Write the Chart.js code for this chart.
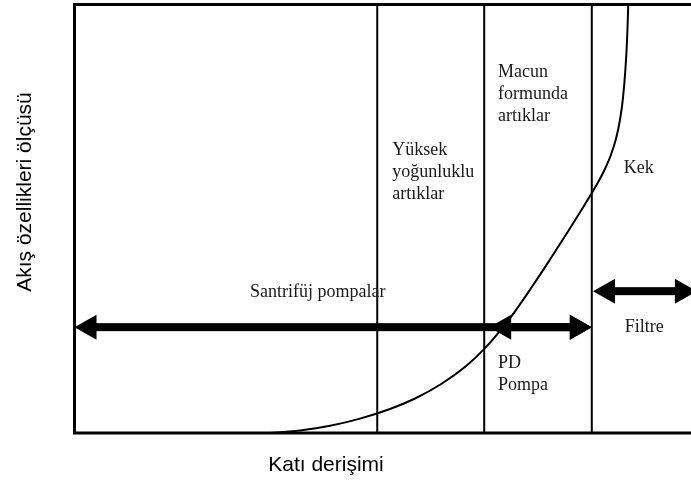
<!DOCTYPE html>
<html>
<head>
<meta charset="utf-8">
<script src="https://cdn.jsdelivr.net/npm/chart.js@4.4.0/dist/chart.umd.min.js"></script>
<style>
  html, body { margin: 0; padding: 0; background: #fff; overflow: hidden; }
  #wrap { width: 702px; height: 482px; }
</style>
</head>
<body>
<div id="wrap"><canvas id="flowChart"></canvas></div>
<script>
// x: katı derişimi (0-100), y: akış özellikleri ölçüsü (0-100)
const dividerX = [48.4, 65.5, 82.7];

const curveX = [31.25, 36.05, 40.85, 45.64, 50.44, 54.44, 58.43, 62.75, 65.47, 69.64, 73.30, 76.02, 78.74, 80.82, 82.73, 84.01, 84.97, 85.77, 86.57, 87.21, 87.69, 88.09, 88.33, 88.49, 88.55, 88.60];
const curveY = [0, 0.56, 1.68, 3.36, 5.60, 8.05, 11.26, 15.80, 19.56, 26.83, 34.47, 40.49, 46.68, 51.53, 56.06, 59.32, 62.13, 64.93, 68.66, 73.10, 78.21, 85.21, 91.48, 98.04, 101.96, 105];

// arrows: [from, to] along x, at height arrowY
const arrowY = [24.7, 24.7, 33.1];
const arrowFrom = [0, 66.3, 82.9];
const arrowTo = [82.7, 82.7, 99.5];

const regionLabels = [
    ['Santrifüj pompalar'],
    ['Filtre'],
    ['PD', 'Pompa'],
    ['Yüksek', 'yoğunluklu', 'artıklar'],
    ['Macun', 'formunda', 'artıklar'],
    ['Kek']
];
const labelX = [38.9, 91.1, 67.7, 50.8, 67.7, 87.8];
const labelY = [32.9, 24.7, 16.3, 66.0, 84.2, 61.8];
const labelAlign = ['center', 'center', 'left', 'left', 'left', 'left'];

const xTitle = 'Katı derişimi';
const yTitle = 'Akış özellikleri ölçüsü';

const curvePoints = curveX.map((x, i) => ({ x: x, y: curveY[i] }));

const dividerSets = dividerX.map(x => ({
    data: [{ x: x, y: 0 }, { x: x, y: 100 }],
    showLine: true,
    borderColor: '#000',
    borderWidth: 2,
    pointRadius: 0
}));

const drawingPlugin = {
    id: 'drawing',
    afterDatasetsDraw(chart) {
        const ctx = chart.ctx;
        const xs = chart.scales.x;
        const ys = chart.scales.y;
        const area = chart.chartArea;

        // frame
        ctx.save();
        ctx.strokeStyle = '#000';
        ctx.lineWidth = 3;
        ctx.strokeRect(area.left, area.top, area.right - area.left, area.bottom - area.top);
        ctx.restore();

        // arrows
        const headLen = 22, headHalf = 12.5, shaft = 8;
        ctx.save();
        ctx.fillStyle = '#000';
        arrowY.forEach((yv, i) => {
            const y = ys.getPixelForValue(yv);
            const x1 = xs.getPixelForValue(arrowFrom[i]);
            const x2 = xs.getPixelForValue(arrowTo[i]);
            ctx.fillRect(x1 + headLen - 2, y - shaft / 2, (x2 - x1) - 2 * headLen + 4, shaft);
            ctx.beginPath();
            ctx.moveTo(x1, y);
            ctx.lineTo(x1 + headLen, y - headHalf);
            ctx.lineTo(x1 + headLen, y + headHalf);
            ctx.closePath();
            ctx.fill();
            ctx.beginPath();
            ctx.moveTo(x2, y);
            ctx.lineTo(x2 - headLen, y - headHalf);
            ctx.lineTo(x2 - headLen, y + headHalf);
            ctx.closePath();
            ctx.fill();
        });
        ctx.restore();

        // region labels
        ctx.save();
        ctx.fillStyle = '#1a1a1a';
        ctx.font = '18px "Liberation Serif", "Times New Roman", serif';
        ctx.textBaseline = 'middle';
        regionLabels.forEach((lines, i) => {
            ctx.textAlign = labelAlign[i];
            const x = xs.getPixelForValue(labelX[i]);
            const y = ys.getPixelForValue(labelY[i]);
            lines.forEach((t, j) => ctx.fillText(t, x, y + j * 22));
        });
        ctx.restore();

        // axis titles
        ctx.save();
        ctx.fillStyle = '#000';
        ctx.font = '21px "Liberation Sans", Arial, sans-serif';
        ctx.textAlign = 'center';
        ctx.textBaseline = 'middle';
        ctx.fillText(xTitle, 326, 465);
        ctx.translate(25, 192);
        ctx.rotate(-Math.PI / 2);
        ctx.fillText(yTitle, 0, 0);
        ctx.restore();
    }
};

const flowCtx = document.getElementById('flowChart').getContext('2d');
const flowChart = new Chart(flowCtx, {
    type: 'scatter',
    data: {
        datasets: [
            {
                data: curvePoints,
                showLine: true,
                borderColor: '#000',
                borderWidth: 2,
                pointRadius: 0,
                cubicInterpolationMode: 'monotone'
            },
            ...dividerSets
        ]
    },
    options: {
        responsive: true,
        maintainAspectRatio: false,
        animation: false,
        layout: {
            padding: { left: 74.5, top: 4.5, right: 2, bottom: 49 }
        },
        scales: {
            x: { display: false, min: 0, max: 100 },
            y: { display: false, min: 0, max: 100 }
        },
        plugins: {
            legend: { display: false },
            tooltip: { enabled: false }
        }
    },
    plugins: [drawingPlugin]
});
</script>
</body>
</html>
